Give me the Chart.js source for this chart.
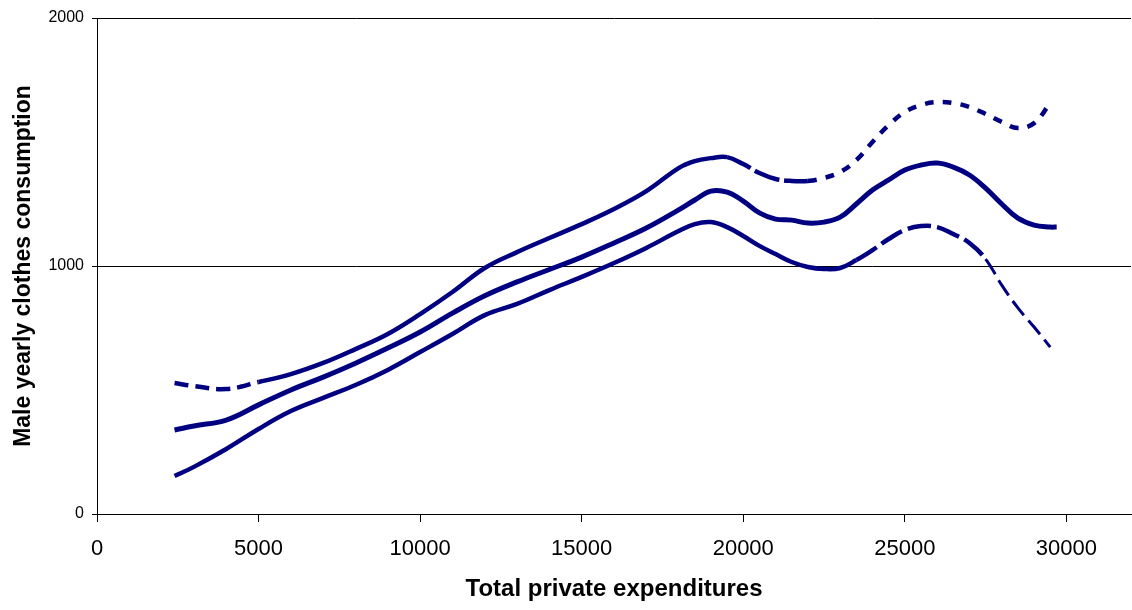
<!DOCTYPE html>
<html>
<head>
<meta charset="utf-8">
<script src="https://cdn.jsdelivr.net/npm/chart.js@4/dist/chart.umd.min.js"></script>
<style>
  html, body { margin: 0; padding: 0; background: #fff; }
  #wrap { width: 1132px; height: 610px; }
</style>
</head>
<body>
<div id="wrap"><canvas id="c" width="1132" height="610"></canvas></div>
<script>
// Total private expenditures (x) at which the curves are sampled
const expenditure = [2400, 3000, 4000, 5000, 6000, 7000, 8000, 9000, 10000, 11000,
  12000, 13000, 14000, 15000, 16000, 17000, 18000, 18500, 19000, 19500,
  20000, 20500, 21000, 21500, 22000, 22500, 23000, 23500, 24000, 24500,
  25000, 25500, 26000, 26500, 27000, 27500, 28000, 28500, 29000, 29500];

// Estimated male yearly clothes consumption
const estimate = [339, 355, 379, 440, 500, 552, 608, 669, 734, 810,
  880, 936, 986, 1036, 1093, 1153, 1226, 1266, 1302, 1298,
  1262, 1214, 1189, 1185, 1173, 1177, 1197, 1250, 1306, 1347,
  1387, 1407, 1415, 1399, 1367, 1314, 1250, 1193, 1165, 1157];
const estimateEndX = 29700;
const estimateEndY = 1157;

// Upper confidence band
const upperBand = [528, 516, 504, 532, 564, 609, 665, 726, 806, 895,
  992, 1056, 1113, 1169, 1230, 1302, 1395, 1423, 1435, 1439,
  1411, 1375, 1351, 1343, 1343, 1355, 1379, 1427, 1500, 1568,
  1621, 1649, 1661, 1657, 1641, 1613, 1581, 1556, 1576, 1657];

// Lower confidence band
const lowerBand = [153, 190, 262, 343, 415, 468, 520, 581, 653, 726,
  802, 847, 903, 956, 1012, 1073, 1141, 1169, 1177, 1157,
  1121, 1081, 1048, 1016, 996, 988, 992, 1024, 1064, 1109,
  1145, 1161, 1157, 1129, 1093, 1028, 923, 831, 754, 673];

const yTicks = [0, 1000, 2000];
const xTicks = [0, 5000, 10000, 15000, 20000, 25000, 30000];
const xMax = 32000;

const NAVY = '#000080';
const toPoints = (xs, ys) => xs.map((x, i) => ({ x, y: ys[i] }));

const fontFamily = '"Liberation Sans", Arial, sans-serif';

new Chart(document.getElementById('c'), {
  type: 'line',
  data: {
    datasets: [
      {
        label: 'Upper band',
        data: toPoints(expenditure, upperBand),
        borderColor: NAVY,
        borderWidth: 4.5,
        pointRadius: 0,
        tension: 0.4,
        segment: {
          borderDash: ctx => {
            const x = ctx.p0.parsed.x;
            if (x < 4800) return [14, 7];
            if (x >= 22000) return [9, 9];
            if (x >= 19500) return [26, 5];
            return undefined;
          }
        }
      },
      {
        label: 'Estimate',
        data: toPoints(expenditure, estimate).concat([{ x: estimateEndX, y: estimateEndY }]),
        borderColor: NAVY,
        borderWidth: 5,
        pointRadius: 0,
        tension: 0.4
      },
      {
        label: 'Lower band',
        data: toPoints(expenditure, lowerBand),
        borderColor: NAVY,
        borderWidth: 4.5,
        pointRadius: 0,
        tension: 0.4,
        segment: {
          borderDash: ctx => {
            const x = ctx.p0.parsed.x;
            if (x >= 27500) return [18, 7];
            if (x >= 23500) return [24, 6];
            return undefined;
          },
          borderWidth: ctx => (ctx.p0.parsed.x >= 27500 ? 3 : undefined)
        }
      }
    ]
  },
  options: {
    responsive: false,
    animation: false,
    events: [],
    layout: { padding: { left: 0, top: 18, right: 1, bottom: 0 } },
    plugins: {
      legend: { display: false },
      tooltip: { enabled: false }
    },
    scales: {
      x: {
        type: 'linear',
        min: 0,
        max: xMax,
        afterFit: s => { s.height = 96; },
        afterBuildTicks: s => { s.ticks = xTicks.map(v => ({ value: v })); },
        border: { color: '#000', width: 1 },
        grid: {
          drawOnChartArea: false,
          drawTicks: true,
          tickLength: 8,
          tickColor: '#000',
          tickWidth: 1
        },
        ticks: {
          maxRotation: 0,
          autoSkip: false,
          padding: 14,
          color: '#000',
          font: { family: fontFamily, size: 22 },
          callback: v => String(v)
        },
        title: {
          display: true,
          text: 'Total private expenditures',
          color: '#000',
          font: { family: fontFamily, size: 24, weight: 'bold' },
          padding: { top: 0, bottom: 6 }
        }
      },
      y: {
        type: 'linear',
        min: 0,
        max: 2000,
        afterFit: s => { s.width = 97; },
        afterBuildTicks: s => { s.ticks = yTicks.map(v => ({ value: v })); },
        border: { color: '#000', width: 1 },
        grid: {
          color: '#000',
          lineWidth: 1,
          drawTicks: true,
          tickLength: 5,
          tickColor: '#000'
        },
        ticks: {
          padding: 8,
          color: '#000',
          font: { family: fontFamily, size: 16 },
          callback: v => String(v)
        },
        title: {
          display: true,
          text: 'Male yearly clothes consumption',
          color: '#000',
          font: { family: fontFamily, size: 23, weight: 'bold' },
          padding: { top: 10, bottom: 0 }
        }
      }
    }
  }
});
</script>
</body>
</html>
